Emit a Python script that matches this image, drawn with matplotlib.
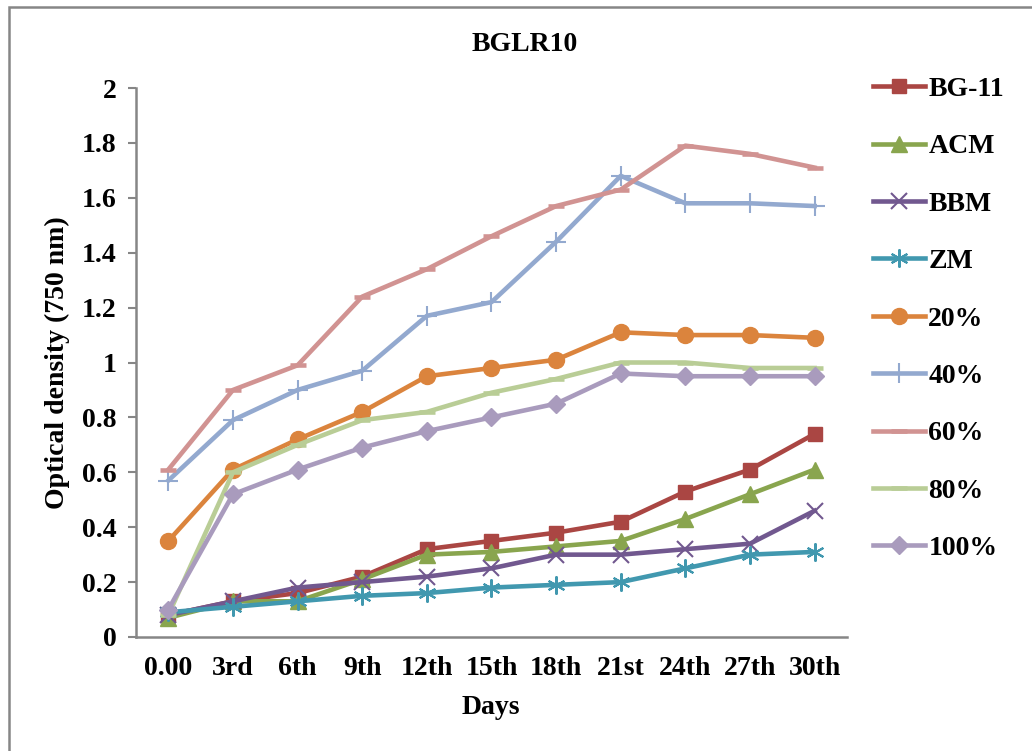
import matplotlib.pyplot as plt
from matplotlib.patches import Rectangle

plt.rcParams["font.family"] = ["Liberation Serif", "DejaVu Serif"]
plt.rcParams["font.weight"] = "bold"

days = ["0.00", "3rd", "6th", "9th", "12th", "15th", "18th", "21st", "24th", "27th", "30th"]

bg11 = [0.08, 0.13, 0.16, 0.22, 0.32, 0.35, 0.38, 0.42, 0.53, 0.61, 0.74]
acm = [0.07, 0.13, 0.13, 0.21, 0.30, 0.31, 0.33, 0.35, 0.43, 0.52, 0.61]
bbm = [0.08, 0.13, 0.18, 0.20, 0.22, 0.25, 0.30, 0.30, 0.32, 0.34, 0.46]
zm = [0.09, 0.11, 0.13, 0.15, 0.16, 0.18, 0.19, 0.20, 0.25, 0.30, 0.31]
p20 = [0.35, 0.61, 0.72, 0.82, 0.95, 0.98, 1.01, 1.11, 1.10, 1.10, 1.09]
p40 = [0.57, 0.79, 0.90, 0.97, 1.17, 1.22, 1.44, 1.68, 1.58, 1.58, 1.57]
p60 = [0.61, 0.90, 0.99, 1.24, 1.34, 1.46, 1.57, 1.63, 1.79, 1.76, 1.71]
p80 = [0.08, 0.60, 0.70, 0.79, 0.82, 0.89, 0.94, 1.00, 1.00, 0.98, 0.98]
p100 = [0.10, 0.52, 0.61, 0.69, 0.75, 0.80, 0.85, 0.96, 0.95, 0.95, 0.95]

series = [
    ("BG-11", bg11, "#AA4643", "s", 10.5, 1.0),
    ("ACM", acm, "#89A54E", "^", 11.5, 1.0),
    ("BBM", bbm, "#71588F", "x", 11, 1.5),
    ("ZM", zm, "#4198AF", (6, 2, 0), 13, 1.5),
    ("20%", p20, "#DB843D", "o", 11.5, 1.0),
    ("40%", p40, "#93A9CF", "+", 14, 1.5),
    ("60%", p60, "#D19392", "_", 12, 3.3),
    ("80%", p80, "#B9CD96", "_", 12, 3.3),
    ("100%", p100, "#A99BBD", "D", 9.5, 1.0),
]

fs = 20

fig = plt.figure(figsize=(10.32, 7.51), dpi=100)
ax = fig.add_axes([0.1318, 0.1518, 0.6889, 0.731])

x = range(len(days))
for name, vals, color, marker, ms, mew in series:
    ax.plot(x, vals, color=color, lw=3.3, marker=marker, markersize=ms,
            markeredgewidth=mew, markerfacecolor=color, markeredgecolor=color,
            label=name, solid_joinstyle="round")

ax.set_xlim(-0.5, len(days) - 0.5)
ax.set_ylim(0, 2)
ax.set_yticks([0, 0.2, 0.4, 0.6, 0.8, 1.0, 1.2, 1.4, 1.6, 1.8, 2.0])
ax.set_yticklabels(["0", "0.2", "0.4", "0.6", "0.8", "1", "1.2", "1.4", "1.6", "1.8", "2"])
ax.set_xticks(list(x))
ax.set_xticklabels(days)
ax.tick_params(axis="x", length=0, labelsize=fs, pad=14)
ax.tick_params(axis="y", length=6, width=1.5, color="#868686", labelsize=fs, pad=8)

for side in ["top", "right"]:
    ax.spines[side].set_visible(False)
for side in ["left", "bottom"]:
    ax.spines[side].set_color("#868686")
    ax.spines[side].set_linewidth(1.8)

fig.text(525 / 1032, 1 - 51 / 751, "BGLR10", fontsize=fs, fontweight="bold",
         ha="center", va="baseline")
fig.text(491 / 1032, 1 - 714 / 751, "Days", fontsize=fs, fontweight="bold",
         ha="center", va="baseline")
fig.text(57 / 1032, 1 - 363 / 751, "Optical density (750 nm)", fontsize=fs,
         fontweight="bold", ha="center", va="center", rotation=90)

ax.legend(loc="upper left", bbox_to_anchor=(0.846, 0.898), bbox_transform=fig.transFigure,
          frameon=False, fontsize=fs, handlelength=1.87, handletextpad=0.12,
          labelspacing=1.15, borderpad=0, borderaxespad=0)

fig.patches.append(Rectangle((0.0087, -0.05), 1.1, 0.05 + 0.9907, transform=fig.transFigure,
                             fill=False, edgecolor="#868686", lw=1.8))

fig.savefig("out.png", dpi=100)
